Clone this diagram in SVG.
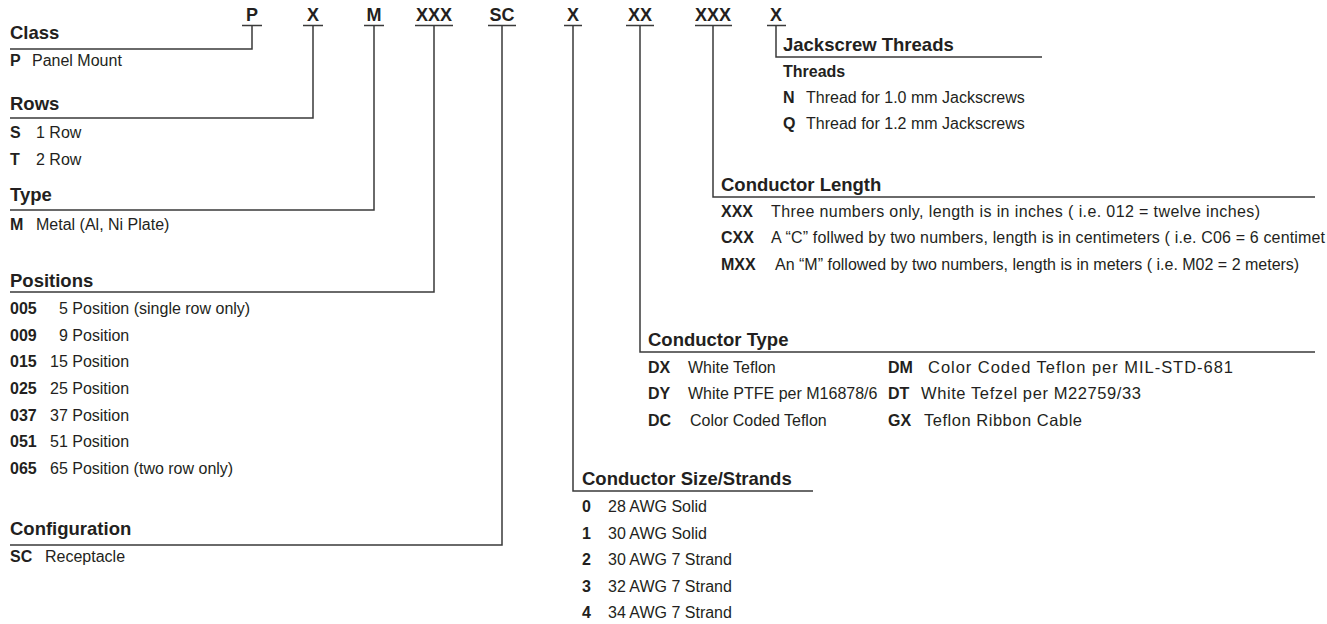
<svg xmlns="http://www.w3.org/2000/svg" width="1327" height="624" viewBox="0 0 1327 624">
<style>
text{font-family:"Liberation Sans",Arial,Helvetica,sans-serif;fill:#231f20}
.top{font-size:18px;font-weight:bold;text-anchor:middle}
.h{font-size:18.5px;font-weight:bold}
.sh{font-size:16px;font-weight:bold}
.c{font-size:16px;font-weight:bold}
.d{font-size:16px}
.d2{font-size:16.5px}
.ln{stroke:#3a3a3a;stroke-width:1.5;fill:none}
</style>
<rect width="1327" height="624" fill="#fff"/>
<g id="codes">
<text class="top" x="252" y="21">P</text>
<text class="top" x="313" y="21">X</text>
<text class="top" x="374" y="21">M</text>
<text class="top" x="434" y="21">XXX</text>
<text class="top" x="502" y="21">SC</text>
<text class="top" x="573" y="21">X</text>
<text class="top" x="640" y="21">XX</text>
<text class="top" x="713" y="21">XXX</text>
<text class="top" x="776" y="21">X</text>
</g>
<g id="connectors" class="ln">
<path d="M242 25.5H262M252 25.5V49H10"/>
<path d="M303 25.5H323M313 25.5V118H10"/>
<path d="M364 25.5H384M374 25.5V210H10"/>
<path d="M415 25.5H453M434 25.5V292H10"/>
<path d="M488 25.5H516M502 25.5V545H10"/>
<path d="M564 25.5H582M573 25.5V491H813"/>
<path d="M626 25.5H654M640 25.5V352H1315"/>
<path d="M695 25.5H732M713 25.5V197H1315"/>
<path d="M767 25.5H786M776 25.5V57H1042"/>
</g>
<g id="class">
<text class="h" x="10" y="39">Class</text>
<text class="c" x="10" y="66">P</text><text class="d" x="32" y="66">Panel Mount</text>
</g>
<g id="rows">
<text class="h" x="10" y="110">Rows</text>
<text class="c" x="10" y="138">S</text><text class="d" x="36" y="138">1 Row</text>
<text class="c" x="10" y="165">T</text><text class="d" x="36" y="165">2 Row</text>
</g>
<g id="type">
<text class="h" x="10" y="201">Type</text>
<text class="c" x="10" y="230">M</text><text class="d" x="36" y="230">Metal (Al, Ni Plate)</text>
</g>
<g id="positions">
<text class="h" x="10" y="287">Positions</text>
<text class="c" x="10" y="314">005</text><text class="d" x="59" y="314">5 Position (single row only)</text>
<text class="c" x="10" y="341">009</text><text class="d" x="59" y="341">9 Position</text>
<text class="c" x="10" y="367">015</text><text class="d" x="50" y="367">15 Position</text>
<text class="c" x="10" y="394">025</text><text class="d" x="50" y="394">25 Position</text>
<text class="c" x="10" y="421">037</text><text class="d" x="50" y="421">37 Position</text>
<text class="c" x="10" y="447">051</text><text class="d" x="50" y="447">51 Position</text>
<text class="c" x="10" y="474">065</text><text class="d" x="50" y="474">65 Position (two row only)</text>
</g>
<g id="configuration">
<text class="h" x="10" y="535">Configuration</text>
<text class="c" x="10" y="562">SC</text><text class="d" x="45" y="562">Receptacle</text>
</g>
<g id="jackscrew">
<text class="h" x="783" y="51">Jackscrew Threads</text>
<text class="sh" x="783" y="77">Threads</text>
<text class="c" x="783" y="103">N</text><text class="d" x="806" y="103">Thread for 1.0 mm Jackscrews</text>
<text class="c" x="783" y="129">Q</text><text class="d" x="806" y="129">Thread for 1.2 mm Jackscrews</text>
</g>
<g id="length">
<text class="h" x="721" y="191">Conductor Length</text>
<text class="c" x="721" y="217">XXX</text><text class="d" x="771" y="217" textLength="489">Three numbers only, length is in inches ( i.e. 012 = twelve inches)</text>
<text class="c" x="721" y="243">CXX</text><text class="d" x="771" y="243" textLength="554">A “C” follwed by two numbers, length is in centimeters ( i.e. C06 = 6 centimet</text>
<text class="c" x="721" y="270">MXX</text><text class="d" x="775" y="270">An “M” followed by two numbers, length is in meters ( i.e. M02 = 2 meters)</text>
</g>
<g id="ctype">
<text class="h" x="648" y="346">Conductor Type</text>
<text class="c" x="648" y="373">DX</text><text class="d" x="688" y="373">White Teflon</text>
<text class="c" x="648" y="399">DY</text><text class="d" x="688" y="399">White PTFE per M16878/6</text>
<text class="c" x="648" y="426">DC</text><text class="d" x="690" y="426">Color Coded Teflon</text>
<text class="c" x="888" y="373">DM</text><text class="d2" x="928" y="373" textLength="305">Color Coded Teflon per MIL-STD-681</text>
<text class="c" x="888" y="399">DT</text><text class="d2" x="921" y="399" textLength="220">White Tefzel per M22759/33</text>
<text class="c" x="888" y="426">GX</text><text class="d2" x="924" y="426" textLength="158">Teflon Ribbon Cable</text>
</g>
<g id="size">
<text class="h" x="582" y="485">Conductor Size/Strands</text>
<text class="c" x="582" y="512">0</text><text class="d" x="608" y="512">28 AWG Solid</text>
<text class="c" x="582" y="539">1</text><text class="d" x="608" y="539">30 AWG Solid</text>
<text class="c" x="582" y="565">2</text><text class="d" x="608" y="565">30 AWG 7 Strand</text>
<text class="c" x="582" y="592">3</text><text class="d" x="608" y="592">32 AWG 7 Strand</text>
<text class="c" x="582" y="618">4</text><text class="d" x="608" y="618">34 AWG 7 Strand</text>
</g>
</svg>
